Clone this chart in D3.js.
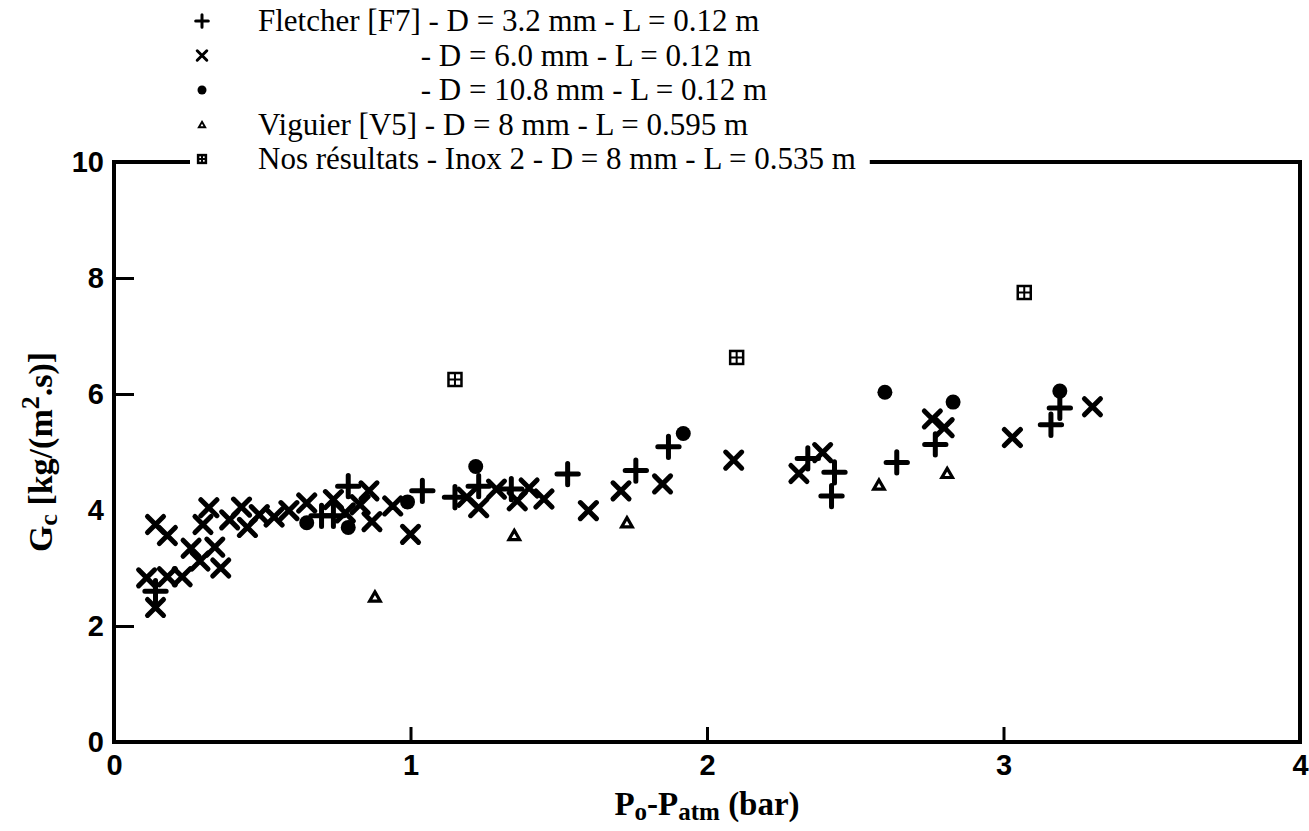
<!DOCTYPE html>
<html>
<head>
<meta charset="utf-8">
<script src="https://cdn.jsdelivr.net/npm/d3@7"></script>
<style>
  body { margin: 0; background: #fff; }
  svg { display: block; }
</style>
</head>
<body>
<svg id="chart" width="1309" height="831"></svg>
<script>
// données : [Po-Patm (bar), Gc]
const fletcher32 = [
  [0.14, 2.6], [0.70, 3.90], [0.74, 3.90], [0.79, 4.41], [1.04, 4.33], [1.15, 4.22],
  [1.23, 4.41], [1.34, 4.36], [1.53, 4.62], [1.76, 4.68], [1.87, 5.09], [2.34, 4.89],
  [2.43, 4.65], [2.42, 4.24], [2.64, 4.82], [2.77, 5.13], [3.16, 5.47], [3.19, 5.76]
];
const fletcher60 = [
  [0.11, 2.83], [0.14, 2.32], [0.18, 2.85], [0.23, 2.85], [0.14, 3.75], [0.18, 3.56],
  [0.26, 3.34], [0.29, 3.12], [0.34, 3.36], [0.36, 3.00], [0.30, 3.75], [0.32, 4.04],
  [0.39, 3.83], [0.43, 4.05], [0.45, 3.70], [0.49, 3.92], [0.54, 3.88], [0.59, 3.99],
  [0.65, 4.12], [0.74, 4.18], [0.78, 3.95], [0.83, 4.09], [0.86, 4.33], [0.87, 3.80],
  [0.94, 4.07], [1.00, 3.58], [1.19, 4.22], [1.23, 4.04], [1.29, 4.36], [1.36, 4.16],
  [1.40, 4.38], [1.45, 4.19], [1.60, 3.99], [1.71, 4.33], [1.85, 4.45], [2.09, 4.86],
  [2.31, 4.63], [2.39, 4.99], [2.76, 5.57], [2.80, 5.42], [3.03, 5.25], [3.30, 5.78]
];
const fletcher108 = [
  [0.65, 3.78], [0.79, 3.70], [0.99, 4.14], [1.22, 4.75], [1.92, 5.32],
  [2.60, 6.03], [2.83, 5.86], [3.19, 6.05]
];
const viguier = [[0.88, 2.50], [1.35, 3.56], [1.73, 3.78], [2.58, 4.43], [2.81, 4.63]];
const nosResultats = [[1.15, 6.25], [2.10, 6.63], [3.07, 7.75]];

const xTicks = [0, 1, 2, 3, 4];
const yTicks = [0, 2, 4, 6, 8, 10];

const legendLabels = [
  "Fletcher [F7] - D = 3.2 mm - L = 0.12 m",
  "- D = 6.0 mm - L = 0.12 m",
  "- D = 10.8 mm - L = 0.12 m",
  "Viguier [V5] - D = 8 mm - L = 0.595 m",
  "Nos résultats - Inox 2 - D = 8 mm - L = 0.535 m"
];

const serif = "'Liberation Serif', 'Times New Roman', serif";
const svg = d3.select("#chart");

const x = d3.scaleLinear().domain([0, 4]).range([114, 1300]);
const y = d3.scaleLinear().domain([0, 10]).range([742, 162]);

// symboles
const sym = {
  plus: d3.symbolPlus || d3.symbolCross,
  times: d3.symbolTimes || d3.symbolCross,
  tri: d3.symbolTriangle2 || d3.symbolTriangle
};

function drawMark(g, kind, px, py, scale) {
  scale = scale || 1;
  if (kind === "plus" || kind === "times") {
    const size = kind === "plus" ? 150 : 170;
    g.append("path")
      .attr("d", d3.symbol(sym[kind], size * scale * scale)())
      .attr("transform", `translate(${px},${py})`)
      .attr("fill", "none").attr("stroke", "#000")
      .attr("stroke-width", 5 * scale).attr("stroke-linecap", "round");
  } else if (kind === "dot") {
    g.append("circle").attr("cx", px).attr("cy", py).attr("r", 7.5 * scale).attr("fill", "#000");
  } else if (kind === "tri") {
    g.append("path")
      .attr("d", d3.symbol(sym.tri, 80 * scale * scale)())
      .attr("transform", `translate(${px},${py + 1})`)
      .attr("fill", "#fff").attr("stroke", "#000").attr("stroke-width", 3.2 * scale);
  } else if (kind === "box") {
    const s = 6.5 * scale;
    g.append("rect").attr("x", px - s).attr("y", py - s).attr("width", 2 * s).attr("height", 2 * s)
      .attr("fill", "#fff").attr("stroke", "#000").attr("stroke-width", 2.5);
    g.append("path").attr("d", `M${px - s},${py}H${px + s}M${px},${py - s}V${py + s}`)
      .attr("stroke", "#000").attr("stroke-width", 2);
  }
}

// axes (graduations vers l'intérieur)
const yAxis = svg.append("g")
  .attr("transform", `translate(${x(0)},0)`)
  .call(d3.axisLeft(y).tickValues(yTicks).tickSize(-20).tickPadding(10).tickFormat(d3.format("d")));
const xAxis = svg.append("g")
  .attr("transform", `translate(0,${y(0)})`)
  .call(d3.axisBottom(x).tickValues(xTicks).tickSize(-15).tickPadding(12).tickFormat(d3.format("d")));

[yAxis, xAxis].forEach(a => {
  a.select(".domain").remove();
  a.selectAll(".tick line").attr("stroke", "#000").attr("stroke-width", 3)
    .filter(d => d === 0 || d === 4 || d === 10).remove();
  a.selectAll(".tick text")
    .attr("font-family", "'Liberation Sans Narrow', 'Liberation Sans', Arial, sans-serif")
    .attr("font-weight", "bold").attr("font-size", 29).attr("fill", "#000");
});

// titres des axes
svg.append("text")
  .attr("x", x(2)).attr("y", 815)
  .attr("text-anchor", "middle")
  .attr("font-family", serif)
  .attr("font-weight", "bold").attr("font-size", 33)
  .call(t => {
    t.append("tspan").text("P");
    t.append("tspan").text("o").attr("font-size", 25).attr("dy", 5);
    t.append("tspan").text("-P").attr("dy", -5);
    t.append("tspan").text("atm").attr("font-size", 25).attr("dy", 5);
    t.append("tspan").text(" (bar)").attr("dy", -5);
  });

svg.append("text")
  .attr("transform", `translate(52,${y(5)}) rotate(-90)`)
  .attr("text-anchor", "middle")
  .attr("font-family", serif)
  .attr("font-weight", "bold").attr("font-size", 34)
  .call(t => {
    t.append("tspan").text("G");
    t.append("tspan").text("c").attr("font-size", 26).attr("dy", 5);
    t.append("tspan").text(" [kg/(m").attr("dy", -5);
    t.append("tspan").text("2").attr("font-size", 26).attr("dy", -13);
    t.append("tspan").text(".s)]").attr("dy", 13);
  });

// points
const pts = svg.append("g");
fletcher60.forEach(d => drawMark(pts, "times", x(d[0]), y(d[1])));
fletcher32.forEach(d => drawMark(pts, "plus", x(d[0]), y(d[1])));
fletcher108.forEach(d => drawMark(pts, "dot", x(d[0]), y(d[1])));
viguier.forEach(d => drawMark(pts, "tri", x(d[0]), y(d[1])));
nosResultats.forEach(d => drawMark(pts, "box", x(d[0]), y(d[1])));

// légende
const legendKinds = ["plus", "times", "dot", "tri", "box"];
const legend = svg.append("g");
const rowY = d3.scaleLinear().domain([0, 4]).range([21, y(10) - 3]);
const lx = 258;
const fs = 31;

const tmp = legend.append("text")
  .attr("font-family", serif).attr("font-size", fs).text("Fletcher [F7] ");
const shift = tmp.node().getComputedTextLength();
tmp.remove();

let lastEnd = 0;
legendLabels.forEach((lab, i) => {
  drawMark(legend, legendKinds[i], 202, rowY(i), 0.6);
  const t = legend.append("text")
    .attr("x", (i === 1 || i === 2) ? lx + shift : lx)
    .attr("y", rowY(i)).attr("dy", "0.33em")
    .attr("font-family", serif)
    .attr("font-size", fs)
    .text(lab);
  if (i === 4) lastEnd = lx + t.node().getComputedTextLength();
});

// cadre (le haut est coupé par la légende)
svg.append("path")
  .attr("fill", "none").attr("stroke", "#000").attr("stroke-width", 4)
  .attr("d", `M190,${y(10)}H${x(0)}V${y(0)}H${x(4)}V${y(10)}H${lastEnd + 14}`);
</script>
</body>
</html>
